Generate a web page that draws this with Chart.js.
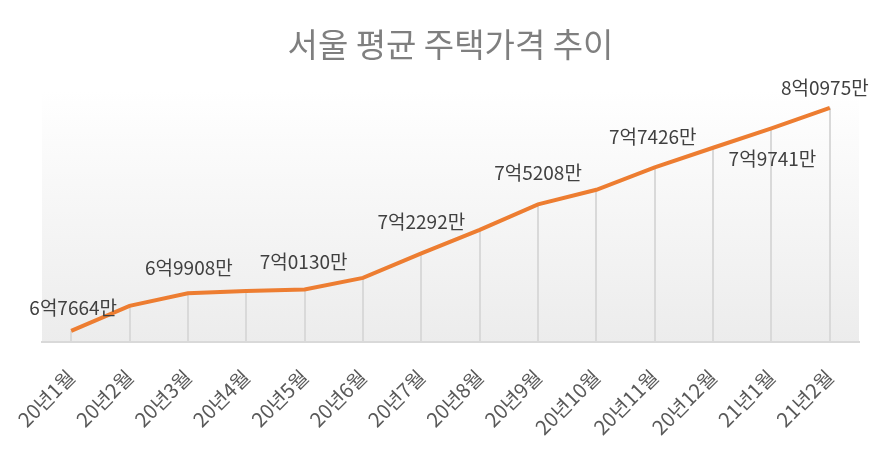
<!DOCTYPE html>
<html>
<head>
<meta charset="utf-8">
<script src="https://cdn.jsdelivr.net/npm/chart.js@4/dist/chart.umd.min.js"></script>
<style>
  html, body { margin: 0; padding: 0; background: #ffffff; }
  #wrap { width: 882px; height: 449px; position: relative; }
</style>
</head>
<body>
<div id="wrap"><canvas id="c"></canvas></div>
<script>
// ---- data ----
const categories = ['20년1월','20년2월','20년3월','20년4월','20년5월','20년6월','20년7월','20년8월','20년9월','20년10월','20년11월','20년12월','21년1월','21년2월'];
// 평균 주택가격 (만원)
const prices = [67664, 69157, 69908, 70040, 70130, 70828, 72292, 73694, 75208, 76082, 77426, 78589, 79741, 80975];
// indices that carry a data label
const labeledPoints = [0, 2, 4, 6, 8, 10, 12, 13];
const chartTitle = '서울 평균 주택가격 추이';

function fmt(v) {
  const eok = Math.floor(v / 10000);
  const man = String(v % 10000).padStart(4, '0');
  return eok + '억' + man + '만';
}

// label placement (style): offsets relative to the point
const labelOffsets = {
  0: [2, -23], 2: [1, -25], 4: [-1, -28], 6: [0, -32],
  8: [0, -32], 10: [-2, -30], 12: [1, 30], 13: [-5, -20]
};

const bgPlugin = {
  id: 'bg',
  beforeDraw(chart) {
    const { ctx, chartArea: a } = chart;
    const g = ctx.createLinearGradient(0, a.top, 0, a.bottom);
    g.addColorStop(0, 'rgba(255,255,255,1)');
    g.addColorStop(1, 'rgba(236,236,236,1)');
    ctx.save();
    ctx.fillStyle = g;
    ctx.fillRect(a.left, a.top, a.right - a.left, a.bottom - a.top);
    ctx.restore();
  }
};

const dropPlugin = {
  id: 'drop',
  beforeDatasetsDraw(chart) {
    const { ctx, chartArea: a } = chart;
    const meta = chart.getDatasetMeta(0);
    ctx.save();
    ctx.strokeStyle = '#d9d9d9';
    ctx.lineWidth = 2;
    meta.data.forEach(p => {
      ctx.beginPath();
      ctx.moveTo(Math.round(p.x), p.y);
      ctx.lineTo(Math.round(p.x), a.bottom);
      ctx.stroke();
    });
    ctx.restore();
  }
};

const labelPlugin = {
  id: 'vlabels',
  afterDatasetsDraw(chart) {
    const { ctx } = chart;
    const meta = chart.getDatasetMeta(0);
    ctx.save();
    ctx.font = '19px "Noto Sans CJK KR", "Noto Sans", sans-serif';
    ctx.fillStyle = '#404040';
    ctx.textAlign = 'center';
    ctx.textBaseline = 'middle';
    labeledPoints.forEach(i => {
      const p = meta.data[i];
      const off = labelOffsets[i] || [0, -25];
      ctx.fillText(fmt(prices[i]), p.x + off[0], p.y + off[1]);
    });
    ctx.restore();
  }
};

new Chart(document.getElementById('c'), {
  type: 'line',
  data: {
    labels: categories,
    datasets: [{
      data: prices,
      borderColor: '#ED7D31',
      borderWidth: 4,
      pointRadius: 0,
      tension: 0,
      fill: false
    }]
  },
  options: {
    responsive: true,
    maintainAspectRatio: false,
    animation: false,
    layout: { padding: { left: 42, right: 23, top: 0, bottom: 0 } },
    plugins: {
      legend: { display: false },
      tooltip: { enabled: false },
      title: {
        display: true,
        text: chartTitle,
        color: '#7f7f7f',
        font: { family: '"Noto Sans CJK KR", sans-serif', size: 33, weight: 'normal' },
        padding: { top: 25, bottom: 26 }
      }
    },
    scales: {
      x: {
        offset: true,
        grid: { display: false, drawTicks: false },
        border: { display: true, color: '#d9d9d9', width: 2 },
        ticks: {
          minRotation: 45, maxRotation: 45,
          color: '#595959',
          padding: 23,
          font: { family: '"Noto Sans CJK KR", sans-serif', size: 20 }
        },
        afterFit(s) { s.height = 107; s.paddingLeft = 0; s.paddingRight = 0; }
      },
      y: {
        display: false,
        min: 67000,
        max: 82000
      }
    }
  },
  plugins: [bgPlugin, dropPlugin, labelPlugin]
});
</script>
</body>
</html>
